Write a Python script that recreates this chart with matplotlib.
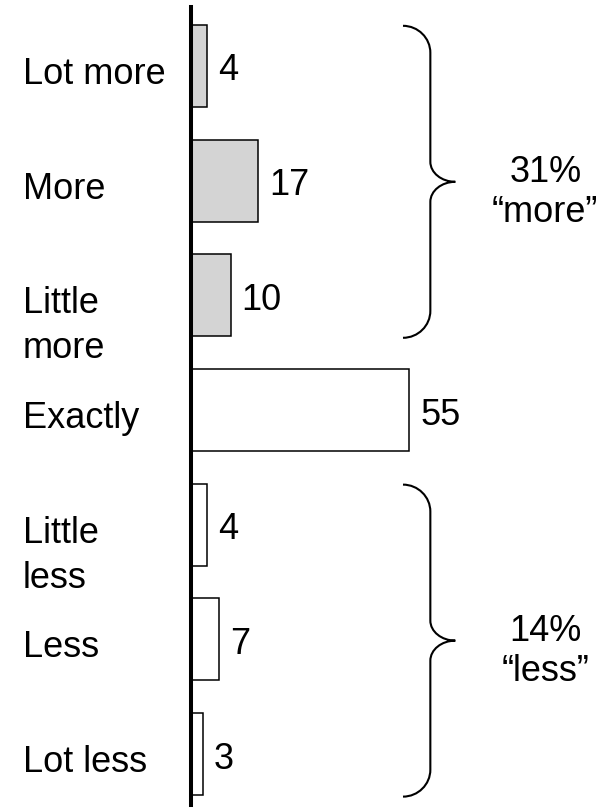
import matplotlib
matplotlib.use("Agg")
import matplotlib.pyplot as plt
from matplotlib.path import Path
from matplotlib.patches import PathPatch

plt.rcParams['font.family'] = ['Liberation Sans', 'DejaVu Sans']

# Data
categories = ["Lot more", "More", "Little\nmore", "Exactly", "Little\nless", "Less", "Lot less"]
values = [4, 17, 10, 55, 4, 7, 3]
fills = ["#d4d4d4", "#d4d4d4", "#d4d4d4", "white", "white", "white", "white"]
group_labels = ["31%\n\u201cmore\u201d", "14%\n\u201cless\u201d"]
group_spans = [(0, 2), (4, 6)]

fs = 26

fig = plt.figure(figsize=(6.16, 8.12), dpi=100)
ax = fig.add_axes([191/616, 6/812, 424/616, 798/812])

pos = list(range(len(categories)))
ax.barh(pos, values, height=0.715, color=fills, edgecolor='black', linewidth=1.1)

ax.set_xlim(0, 107)
ax.set_ylim(6.443, -0.514)

for s in ['top', 'right', 'bottom']:
    ax.spines[s].set_visible(False)
ax.spines['left'].set_linewidth(2.9)
ax.set_xticks([])
ax.set_yticks([])

# write text line by line, first baseline at dy points below the anchor
def lines_text(x, y, s, dy, step, transform, ha):
    for i, line in enumerate(s.split("\n")):
        ax.annotate(line, xy=(x, y), xycoords=transform,
                    xytext=(0, -dy - i*step), textcoords='offset points',
                    ha=ha, va='baseline', fontsize=fs, annotation_clip=False)

# Category labels (left) and value labels
for p, cat, v in zip(pos, categories, values):
    lines_text(-0.396, p, cat, 12.2, 32.4, ax.get_yaxis_transform(), 'left')
    ax.annotate(str(v), xy=(v, p), xytext=(8, 0), textcoords='offset points',
                ha='left', va='center_baseline', fontsize=fs)

# Curly braces with group totals
def brace(y0, y1, x0=53.5, xv=60.4, xt=66.7, ry_end=0.235, ry_tip=0.175, k=0.55):
    ym = (y0 + y1) / 2
    verts = [
        (x0, y0),
        (x0 + k*(xv - x0), y0), (xv, y0 + (1 - k)*ry_end), (xv, y0 + ry_end),
        (xv, ym - ry_tip),
        (xv, ym - (1 - k)*ry_tip), (xt - k*(xt - xv), ym), (xt, ym),
        (xt - k*(xt - xv), ym), (xv, ym + (1 - k)*ry_tip), (xv, ym + ry_tip),
        (xv, y1 - ry_end),
        (xv, y1 - (1 - k)*ry_end), (x0 + k*(xv - x0), y1), (x0, y1),
    ]
    codes = [Path.MOVETO] + [Path.CURVE4]*3 + [Path.LINETO] + [Path.CURVE4]*6 \
        + [Path.LINETO] + [Path.CURVE4]*3
    ax.add_patch(PathPatch(Path(verts, codes), fill=False, edgecolor='black',
                           linewidth=1.5, clip_on=False))
    return ym

for lab, (a, b) in zip(group_labels, group_spans):
    ym = brace(a - 0.35, b + 0.37)
    lines_text(89.4, ym, lab, -0.5, 28.6, 'data', 'center')

fig.savefig("out.png", dpi=100)
